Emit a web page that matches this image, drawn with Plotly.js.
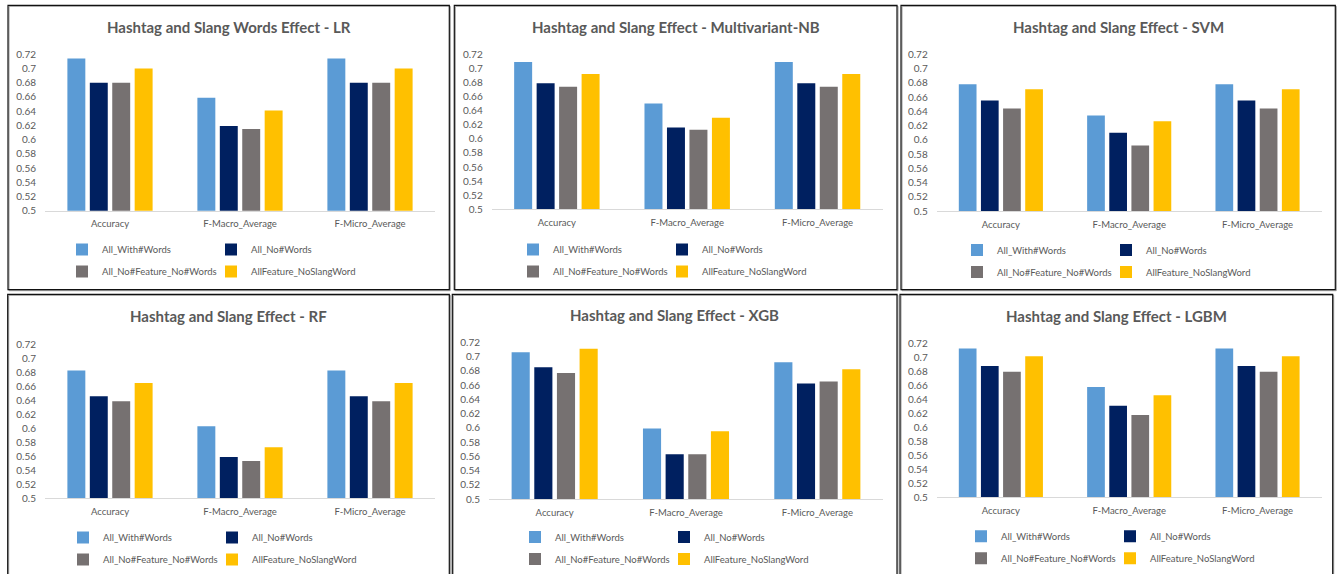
<!DOCTYPE html>
<html>
<head>
<meta charset="utf-8">
<script src="https://cdn.plot.ly/plotly-3.0.1.min.js"></script>
<style>
  html, body { margin: 0; padding: 0; background: #ffffff; }
  #chart { width: 1338px; height: 574px; }
</style>
</head>
<body>
<div id="chart"></div>
<script>
// Metric categories on the x axis of every panel
const categories = ['Accuracy', 'F-Macro_Average', 'F-Micro_Average'];

// Feature-set variants (one bar per variant in each category)
const seriesNames = ['All_With#Words', 'All_No#Words', 'All_No#Feature_No#Words', 'AllFeature_NoSlangWord'];

// Value-axis tick labels
const yTickVals = [0.5, 0.52, 0.54, 0.56, 0.58, 0.6, 0.62, 0.64, 0.66, 0.68, 0.7, 0.72];
const yTickText = ['0.5', '0.52', '0.54', '0.56', '0.58', '0.6', '0.62', '0.64', '0.66', '0.68', '0.7', '0.72'];

// Panel titles
const panelTitles = [
  'Hashtag and Slang Words Effect - LR',
  'Hashtag and Slang Effect - Multivariant-NB',
  'Hashtag and Slang Effect - SVM',
  'Hashtag and Slang Effect - RF',
  'Hashtag and Slang Effect - XGB',
  'Hashtag and Slang Effect - LGBM'
];

// Logistic Regression
const lrWithWords        = [0.714, 0.659, 0.714];
const lrNoWords          = [0.680, 0.619, 0.680];
const lrNoFeatureNoWords = [0.680, 0.615, 0.680];
const lrNoSlangWord      = [0.700, 0.641, 0.700];

// Multivariant Naive Bayes
const nbWithWords        = [0.709, 0.650, 0.709];
const nbNoWords          = [0.679, 0.616, 0.679];
const nbNoFeatureNoWords = [0.674, 0.613, 0.674];
const nbNoSlangWord      = [0.692, 0.630, 0.692];

// SVM
const svmWithWords        = [0.678, 0.634, 0.678];
const svmNoWords          = [0.655, 0.610, 0.655];
const svmNoFeatureNoWords = [0.644, 0.592, 0.644];
const svmNoSlangWord      = [0.671, 0.626, 0.671];

// Random Forest
const rfWithWords        = [0.683, 0.603, 0.683];
const rfNoWords          = [0.646, 0.559, 0.646];
const rfNoFeatureNoWords = [0.639, 0.553, 0.639];
const rfNoSlangWord      = [0.665, 0.573, 0.665];

// XGBoost
const xgbWithWords        = [0.706, 0.599, 0.692];
const xgbNoWords          = [0.685, 0.563, 0.662];
const xgbNoFeatureNoWords = [0.677, 0.563, 0.665];
const xgbNoSlangWord      = [0.711, 0.595, 0.682];

// LightGBM
const lgbmWithWords        = [0.713, 0.658, 0.713];
const lgbmNoWords          = [0.688, 0.631, 0.688];
const lgbmNoFeatureNoWords = [0.680, 0.618, 0.680];
const lgbmNoSlangWord      = [0.702, 0.646, 0.702];

const panelSeries = [
  [lrWithWords, lrNoWords, lrNoFeatureNoWords, lrNoSlangWord],
  [nbWithWords, nbNoWords, nbNoFeatureNoWords, nbNoSlangWord],
  [svmWithWords, svmNoWords, svmNoFeatureNoWords, svmNoSlangWord],
  [rfWithWords, rfNoWords, rfNoFeatureNoWords, rfNoSlangWord],
  [xgbWithWords, xgbNoWords, xgbNoFeatureNoWords, xgbNoSlangWord],
  [lgbmWithWords, lgbmNoWords, lgbmNoFeatureNoWords, lgbmNoSlangWord]
];

// ---- styling / page geometry (pixels on a 1338 x 574 canvas) ----
const W = 1338, H = 574;
const seriesColors = ['#5B9BD5', '#002060', '#767171', '#FFC000'];
const textGrey = '#595959';
const FONT = 'Lato, "Open Sans", sans-serif';

// frame box, plot box (left, right, y of 0.72, y of 0.5), title centre,
// left edge of the first legend column, middle between the two legend rows
const panels = [
  { box: [8, 449.3, 5.3, 289.7],    plot: [45, 435, 54.3, 210.7],        title: [228.6, 27],     legX: 62,  legY: 260.5 },
  { box: [454.3, 897, 5.3, 289.7],  plot: [491.7, 882.7, 54.3, 209.3],   title: [675.6, 27],     legX: 513, legY: 260.5 },
  { box: [901, 1335.3, 5.3, 289.7], plot: [936.7, 1321.7, 54.3, 211],    title: [1118.2, 27],    legX: 957, legY: 260.9 },
  { box: [7.7, 449.3, 294.3, 600],  plot: [45, 435, 344.7, 498],         title: [228.5, 316],    legX: 63,  legY: 548.5 },
  { box: [452.3, 897, 294.3, 600],  plot: [489, 883, 342.3, 499],        title: [674.6, 315.3],  legX: 515, legY: 547.9 },
  { box: [900, 1332.7, 294.3, 600], plot: [936.7, 1321.7, 343.7, 497.3], title: [1116.4, 316.3], legX: 961, legY: 547.2 }
];
const legendColumnStep = 149;

const px = x => x / W;
const py = y => 1 - y / H;
const legendKey = k => (k === 1 ? 'legend' : 'legend' + k);

const traces = [];
const layout = {
  width: W, height: H,
  margin: { l: 0, r: 0, t: 0, b: 0, pad: 0 },
  paper_bgcolor: '#ffffff',
  plot_bgcolor: 'rgba(0,0,0,0)',
  barmode: 'group',
  bargap: 0.31,
  bargroupgap: 0.2,
  font: { family: FONT, color: textGrey, size: 10 },
  showlegend: true,
  shapes: [],
  annotations: []
};

panels.forEach((p, i) => {
  const n = i + 1;
  const xa = n === 1 ? 'x' : 'x' + n;
  const ya = n === 1 ? 'y' : 'y' + n;
  // left legend column holds series 1 and 3, right column series 2 and 4
  const legendLeft = legendKey(2 * i + 1);
  const legendRight = legendKey(2 * i + 2);

  panelSeries[i].forEach((vals, s) => {
    traces.push({
      type: 'bar',
      name: seriesNames[s],
      x: categories,
      y: vals,
      xaxis: xa,
      yaxis: ya,
      marker: { color: seriesColors[s], line: { width: 0 } },
      legend: s % 2 === 0 ? legendLeft : legendRight,
      legendgroup: 'p' + n + 's' + s,
      hoverinfo: 'x+y+name'
    });
  });

  layout[n === 1 ? 'xaxis' : 'xaxis' + n] = {
    domain: [px(p.plot[0]), px(p.plot[1])],
    anchor: ya,
    type: 'category',
    showgrid: false,
    zeroline: false,
    showline: true,
    linecolor: '#D9D9D9',
    linewidth: 1.3,
    ticks: '',
    ticklabelstandoff: 4,
    tickfont: { family: FONT, size: 9.5, color: textGrey },
    fixedrange: true
  };
  layout[n === 1 ? 'yaxis' : 'yaxis' + n] = {
    domain: [py(p.plot[3]), py(p.plot[2])],
    anchor: xa,
    range: [0.5, 0.72],
    tickmode: 'array',
    tickvals: yTickVals,
    ticktext: yTickText,
    showgrid: false,
    zeroline: false,
    showline: false,
    ticks: '',
    ticklabelstandoff: 8,
    tickfont: { family: FONT, size: 10, color: textGrey },
    fixedrange: true
  };

  [[legendLeft, p.legX], [legendRight, p.legX + legendColumnStep]].forEach(([key, x]) => {
    layout[key] = {
      x: px(x), y: py(p.legY),
      xanchor: 'left', yanchor: 'middle',
      orientation: 'v',
      traceorder: 'grouped',
      tracegroupgap: 3,
      bgcolor: 'rgba(0,0,0,0)',
      borderwidth: 0,
      font: { family: FONT, size: 9.5, color: textGrey },
      itemclick: false,
      itemdoubleclick: false
    };
  });

  // panel frame: dark outline with a soft grey inner line
  layout.shapes.push({
    type: 'rect', xref: 'paper', yref: 'paper', layer: 'above',
    x0: px(p.box[0] + 1), x1: px(p.box[1] + 1), y0: py(p.box[2] + 1), y1: py(p.box[3] + 1),
    line: { color: '#9a9a9a', width: 1 }
  });
  layout.shapes.push({
    type: 'rect', xref: 'paper', yref: 'paper', layer: 'above',
    x0: px(p.box[0]), x1: px(p.box[1]), y0: py(p.box[2]), y1: py(p.box[3]),
    line: { color: '#111111', width: 1.2 }
  });

  layout.annotations.push({
    text: '<b>' + panelTitles[i] + '</b>',
    xref: 'paper', yref: 'paper',
    x: px(p.title[0]), y: py(p.title[1]),
    xanchor: 'center', yanchor: 'middle',
    showarrow: false,
    font: { family: FONT, size: 15, color: textGrey }
  });
});

Plotly.newPlot('chart', traces, layout, { displayModeBar: false, responsive: false });
</script>
</body>
</html>
